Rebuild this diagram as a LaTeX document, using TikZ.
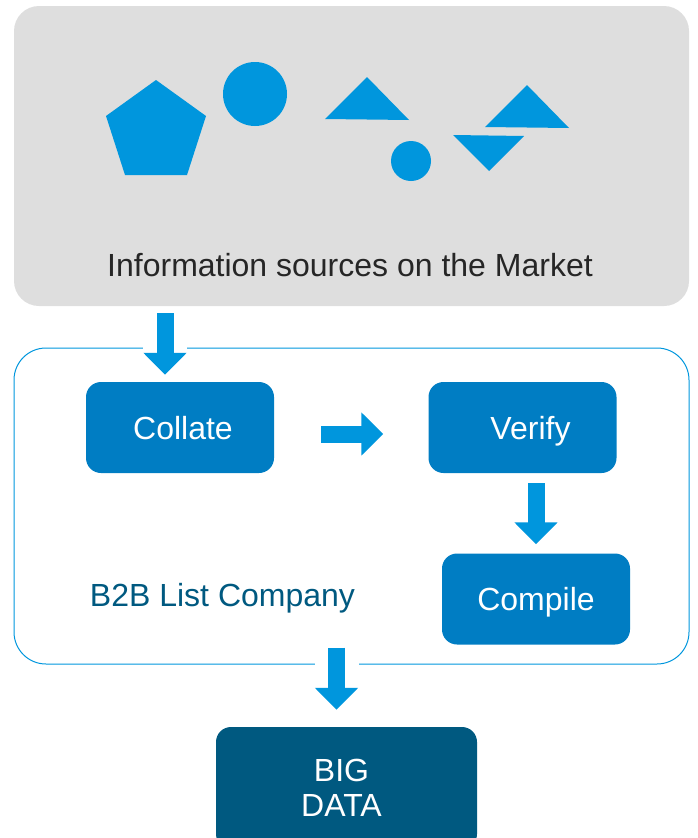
\documentclass[tikz,border=0pt]{standalone}
\usepackage{fontspec}
\setmainfont{Liberation Sans}
\usetikzlibrary{arrows.meta}

\definecolor{greybg}{RGB}{222,222,222}
\definecolor{skyblue}{RGB}{0,150,221}
\definecolor{stepblue}{RGB}{0,125,195}
\definecolor{deepblue}{RGB}{0,89,128}

\begin{document}
\begin{tikzpicture}
  [x=1pt,y=-1pt,
   every node/.style={font=\fontsize{32}{35}\selectfont},
   stepbox/.style={rectangle, rounded corners=15pt, fill=stepblue, text=white,
     minimum width=188pt, minimum height=91pt, inner sep=0pt,
     text height=23.6pt, text depth=0pt},
   flow/.style={draw=skyblue, line width=17pt, -{Triangle[width=42pt,length=22pt]},
     shorten <=7pt, shorten >=7pt,
     preaction={draw=white, line width=44pt, -{Triangle[width=48pt,length=24pt]}}}]
  \useasboundingbox (0,0) rectangle (697,838);

  % sources on the market
  \node[fill=greybg, rounded corners=25pt, minimum width=675pt, minimum height=300pt] (market) at (351.5,156) {};
  \fill[skyblue] (156,80) -- (206,116) -- (187,175) -- (125,175) -- (106,116) -- cycle;
  \fill[skyblue] (255,94) circle (32pt);
  \fill[skyblue] (367,77) -- (409,120) -- (325,119) -- cycle;
  \fill[skyblue] (411,161) circle (20pt);
  \fill[skyblue] (453,135) -- (524,136) -- (489,171) -- cycle;
  \fill[skyblue] (527,85) -- (569,128) -- (485,127) -- cycle;
  \node[text=black!85] (marketlabel) at (350,265) {Information sources on the Market};

  % the company
  \node[draw=skyblue, line width=1pt, rounded corners=32pt, minimum width=675pt, minimum height=316pt] (company) at (351.5,506) {};
  \node[stepbox] (collate) at (180,427.5) {\hspace*{6pt}Collate};
  \node[stepbox] (verify) at (522.5,427.5) {\hspace*{16pt}Verify};
  \node[stepbox] (compile) at (536,599) {Compile};
  \node[text=deepblue] (b2b) at (222.5,598) {B2B List Company};

  \node[fill=deepblue, text=white, rounded corners=15pt, minimum width=261pt, minimum height=122pt, align=center] (bigdata) at (346.5,788) {BIG\hspace*{10pt}\\DATA\hspace*{10pt}};

  \draw[flow] ([xshift=-15pt]collate.north |- market.south) -- ([xshift=-15pt]collate.north);
  \draw[flow, shorten <=47pt, shorten >=45pt] ([yshift=-6.5pt]collate.east) -- ([yshift=-6.5pt]verify.west);
  \draw[flow, shorten <=10pt, shorten >=9pt] (verify.south -| compile.north) -- (compile.north);
  \draw[flow, shorten <=0pt, shorten >=17pt] ([xshift=-15pt,yshift=17pt]company.south) -- ([xshift=-15pt]company.south |- bigdata.north);
\end{tikzpicture}
\end{document}
